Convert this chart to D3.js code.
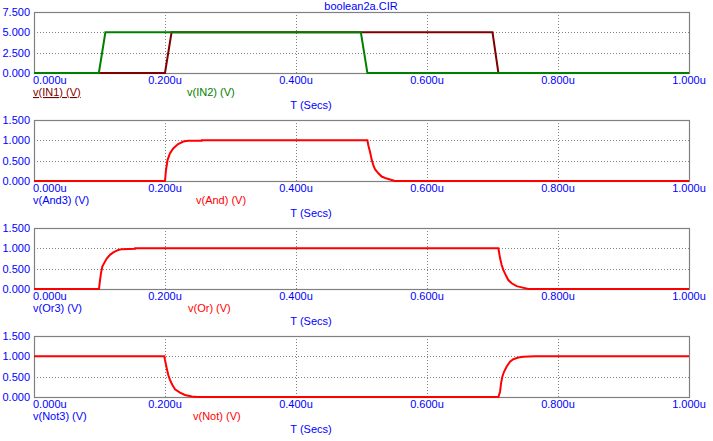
<!DOCTYPE html>
<html><head><meta charset="utf-8">
<script src="https://cdn.jsdelivr.net/npm/d3@7"></script>
<style>
html,body{margin:0;padding:0;background:#fff;}
svg text{font-family:"Liberation Sans",Arial,sans-serif;font-size:11px;}
</style></head>
<body><svg id="c" width="713" height="441"></svg>
<script>
// ---- data ----
const chartTitle = "boolean2a.CIR";
const timeTicks = [0, 0.2, 0.4, 0.6, 0.8, 1.0];
const xAxisTitle = "T (Secs)";

const in1T = [0, 0.2, 0.21, 0.7, 0.709, 1.0];
const in1V = [0, 0, 5, 5, 0, 0];
const in2T = [0, 0.099, 0.109, 0.499, 0.509, 1.0];
const in2V = [0, 0, 5, 5, 0, 0];

const andT = [0, 0.2, 0.2015, 0.204, 0.2075, 0.2125, 0.22, 0.228, 0.2355, 0.256, 0.2561, 0.509, 0.5104, 0.513, 0.5156, 0.518, 0.5206, 0.5257, 0.5308, 0.5385, 0.5461, 0.551, 1.0];
const andV = [0, 0, 0.27, 0.52, 0.68, 0.80, 0.91, 0.97, 0.99, 0.99, 1.0, 1.0, 0.88, 0.72, 0.52, 0.39, 0.29, 0.19, 0.11, 0.06, 0.025, 0, 0];

const orT = [0, 0.0992, 0.1008, 0.1023, 0.1043, 0.1069, 0.111, 0.116, 0.1211, 0.1287, 0.1339, 0.1542, 0.1543, 0.709, 0.7115, 0.714, 0.7165, 0.7206, 0.7241, 0.7293, 0.7369, 0.7446, 0.7547, 1.0];
const orV = [0, 0, 0.22, 0.39, 0.55, 0.63, 0.75, 0.84, 0.90, 0.96, 0.98, 0.99, 1.0, 1.0, 0.76, 0.59, 0.47, 0.33, 0.22, 0.14, 0.07, 0.04, 0, 0];

const notT = [0, 0.199, 0.2, 0.2026, 0.205, 0.2076, 0.2111, 0.2153, 0.2229, 0.2305, 0.2408, 0.25, 0.709, 0.7115, 0.713, 0.715, 0.7176, 0.7217, 0.7267, 0.7318, 0.7394, 0.747, 0.7649, 1.0];
const notV = [1, 1, 0.91, 0.71, 0.54, 0.42, 0.30, 0.19, 0.11, 0.05, 0.01, 0, 0, 0.13, 0.33, 0.5, 0.62, 0.75, 0.87, 0.93, 0.97, 0.99, 1.0, 1.0];

const yTicksInputs = [0, 2.5, 5, 7.5];
const yTicksLogic = [0, 0.5, 1.0, 1.5];

const panelLabels = [
  ["v(IN1) (V)", "v(IN2) (V)"],
  ["v(And3) (V)", "v(And) (V)"],
  ["v(Or3) (V)", "v(Or) (V)"],
  ["v(Not3) (V)", "v(Not) (V)"]
];

// ---- layout ----
const svg = d3.select("#c");
const X0 = 34, X1 = 689, PH = 61;
const tops = [12, 120, 228, 336];
const label2X = [187, 196, 188, 193];
const blue = "#0000ff", grey = "#808080";
const x = d3.scaleLinear().domain([0, 1]).range([X0, X1]);
const zip = (t, v) => t.map((d, i) => [d, v[i]]);

const panels = [
  {ticks: yTicksInputs, series: [{d: zip(in1T, in1V), c: "#800000"}, {d: zip(in2T, in2V), c: "#008000"}], lc: ["#800000", "#008000"], underline: true},
  {ticks: yTicksLogic, series: [{d: zip(andT, andV), c: "#ff0000"}], lc: [blue, "#ff0000"]},
  {ticks: yTicksLogic, series: [{d: zip(orT, orV), c: "#ff0000"}], lc: [blue, "#ff0000"]},
  {ticks: yTicksLogic, series: [{d: zip(notT, notV), c: "#ff0000"}], lc: [blue, "#ff0000"]}
];

svg.append("text").attr("x", 361).attr("y", 10).attr("text-anchor", "middle")
  .attr("fill", blue).text(chartTitle);

panels.forEach((p, i) => {
  const top = tops[i], bot = top + PH;
  const y = d3.scaleLinear().domain([p.ticks[0], p.ticks[p.ticks.length - 1]]).range([bot, top]);
  const g = svg.append("g");
  // grid
  g.selectAll(".vg").data(timeTicks.slice(1, -1)).enter().append("line")
    .attr("x1", d => Math.round(x(d)) + 0.5).attr("x2", d => Math.round(x(d)) + 0.5)
    .attr("y1", top).attr("y2", bot).attr("stroke", grey).attr("stroke-dasharray", "1,2");
  g.selectAll(".hg").data(p.ticks.slice(1, -1)).enter().append("line")
    .attr("x1", X0).attr("x2", X1)
    .attr("y1", d => Math.round(y(d)) + 0.5).attr("y2", d => Math.round(y(d)) + 0.5)
    .attr("stroke", grey).attr("stroke-dasharray", "1,2");
  // frame
  g.append("rect").attr("x", X0 + 0.5).attr("y", top + 0.5).attr("width", X1 - X0)
    .attr("height", PH).attr("fill", "none").attr("stroke", grey).attr("stroke-width", 1.2);
  // y tick labels
  g.selectAll(".yl").data(p.ticks).enter().append("text")
    .attr("x", 30).attr("y", d => y(d) + 4).attr("text-anchor", "end")
    .attr("fill", blue).text(d => d3.format(".3f")(d));
  // x tick labels
  g.selectAll(".xl").data(timeTicks).enter().append("text")
    .attr("x", (d, j) => j === 0 ? X0 - 1 : x(d)).attr("y", bot + 11)
    .attr("text-anchor", (d, j) => j === 0 ? "start" : "middle")
    .attr("fill", blue).text(d => d3.format(".3f")(d) + "u");
  // series
  const line = d3.line().x(d => x(d[0])).y(d => y(d[1]));
  p.series.forEach(s => {
    g.append("path").attr("d", line(s.d)).attr("fill", "none")
      .attr("stroke", s.c).attr("stroke-width", 2);
  });
  // legend
  const t1 = g.append("text").attr("x", X0 - 1).attr("y", bot + 23).attr("fill", p.lc[0]).text(panelLabels[i][0]);
  if (p.underline) t1.attr("text-decoration", "underline");
  g.append("text").attr("x", label2X[i]).attr("y", bot + 23).attr("fill", p.lc[1]).text(panelLabels[i][1]);
  g.append("text").attr("x", 311).attr("y", bot + 36).attr("text-anchor", "middle")
    .attr("fill", blue).text(xAxisTitle);
});
</script></body></html>
